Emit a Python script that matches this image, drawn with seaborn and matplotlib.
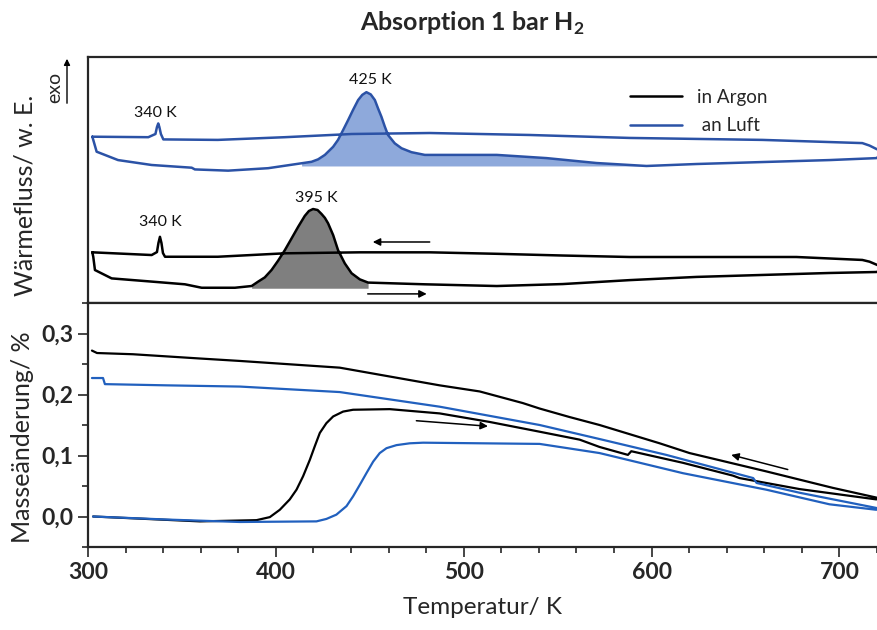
import numpy as np
import pandas as pd
import matplotlib
matplotlib.use("Agg")
import matplotlib.pyplot as plt
import seaborn as sns
from matplotlib.ticker import MultipleLocator, FuncFormatter
from matplotlib.lines import Line2D

# ---------------- DATA ----------------
# DSC (heat flow, arbitrary units) - in Argon (black)
dsc_ar_heat_T = [302.3, 302.8, 303.7, 312.6, 333.9, 351.6, 360.5, 378.2, 387.1, 390.6, 394.1, 397.7,
                 401.2, 404.8, 408.4, 411.9, 415.4, 417.6, 419.8, 422.2, 424.3, 426.1, 427.8, 430.5,
                 433.1, 436.7, 440.3, 444.7, 449.1, 479.3, 517.6, 552.7, 588.3, 623.9, 659.0, 694.7,
                 719.7, 722.0, 723.0]
dsc_ar_heat_y = [20.6, 18.8, 13.4, 10.0, 8.7, 7.6, 6.2, 6.2, 6.9, 8.7, 10.4, 13.4,
                 17.2, 21.5, 26.3, 31.0, 35.4, 37.4, 38.2, 37.8, 36.2, 34.6, 32.4, 27.6,
                 21.5, 16.1, 12.1, 9.6, 8.3, 7.6, 6.9, 7.7, 9.3, 10.6, 11.4, 12.2,
                 12.6, 13.2, 14.2]
dsc_ar_cool_T = [721.5, 719.7, 716.0, 712.2, 677.1, 623.9, 588.3, 552.7, 517.6, 481.9, 444.7, 404.8,
                 369.1, 341.0, 339.9, 339.1, 338.3, 337.5, 336.7, 333.9, 302.3]
dsc_ar_cool_y = [15.0, 15.6, 16.8, 17.5, 18.7, 18.7, 18.7, 19.3, 20.0, 20.6, 20.6, 20.2,
                 18.8, 18.8, 20.3, 24.4, 26.9, 24.4, 20.7, 19.5, 20.6]

# DSC - an Luft (blue)
dsc_lu_heat_T = [302.3, 302.8, 304.6, 316.0, 333.9, 355.2, 356.9, 374.6, 395.9, 413.7, 419.0, 422.5,
                 426.1, 430.5, 433.1, 435.8, 438.5, 441.1, 443.8, 446.0, 448.2, 450.5, 452.7, 454.4,
                 456.2, 458.0, 459.7, 463.3, 466.9, 472.2, 479.3, 517.6, 544.1, 570.7, 597.3, 623.9,
                 659.0, 694.7, 719.7, 722.3]
dsc_lu_heat_y = [67.6, 66.3, 61.5, 58.1, 56.1, 55.0, 54.3, 53.8, 54.8, 56.8, 57.4, 58.4,
                 60.2, 63.5, 66.3, 70.3, 74.4, 78.5, 82.5, 84.6, 85.7, 84.8, 82.5, 79.1,
                 75.7, 71.7, 68.3, 64.9, 62.9, 61.3, 60.2, 60.2, 58.9, 56.9, 55.7, 56.5,
                 57.3, 58.1, 58.9, 60.4]
dsc_lu_cool_T = [722.3, 719.7, 716.0, 712.2, 659.0, 588.3, 535.1, 481.9, 440.4, 404.8, 369.1, 340.1,
                 338.8, 338.0, 337.4, 336.7, 335.9, 332.1, 302.3]
dsc_lu_cool_y = [61.8, 62.6, 64.0, 65.0, 66.3, 67.1, 68.3, 69.1, 68.7, 67.4, 66.3, 66.5,
                 68.7, 71.5, 73.0, 71.5, 68.7, 67.4, 67.6]

# peak-area baselines (heat flow units) and their temperature ranges
fill_ar_base, fill_ar_range = 6.0, (387.0, 450.0)
fill_lu_base, fill_lu_range = 55.7, (413.0, 598.0)

# TG (mass change, %) - in Argon (black)
tg_ar_heat_T = [302.7, 359.6, 389.7, 396.8, 402.1, 407.4, 411.0, 414.5, 418.1, 420.7, 423.4, 426.9,
                430.5, 435.8, 441.1, 460.6, 487.2, 513.8, 540.4, 561.7, 572.3, 587.4, 589.2, 616.7,
                643.3, 646.8, 678.7, 719.7]
tg_ar_heat_y = [0.000, -0.008, -0.006, -0.001, 0.011, 0.028, 0.044, 0.066, 0.093, 0.115, 0.137, 0.153,
                0.164, 0.172, 0.175, 0.176, 0.169, 0.155, 0.139, 0.126, 0.114, 0.101, 0.107, 0.088,
                0.067, 0.063, 0.045, 0.028]
tg_ar_cool_T = [719.7, 696.4, 661.0, 620.2, 604.3, 572.3, 556.4, 540.4, 531.4, 508.5, 487.2, 434.0,
                380.9, 359.6, 323.9, 304.8, 302.1]
tg_ar_cool_y = [0.031, 0.047, 0.074, 0.104, 0.120, 0.150, 0.163, 0.177, 0.186, 0.205, 0.215, 0.244,
                0.255, 0.259, 0.266, 0.268, 0.272]

# TG - an Luft (blue)
tg_lu_heat_T = [302.7, 342.0, 380.9, 421.6, 426.9, 432.2, 437.6, 441.1, 444.7, 448.2, 451.8, 455.3,
                458.9, 464.2, 471.3, 478.4, 540.4, 561.7, 572.3, 616.7, 661.0, 694.7, 719.7]
tg_lu_heat_y = [0.000, -0.005, -0.009, -0.008, -0.004, 0.003, 0.017, 0.033, 0.052, 0.071, 0.090, 0.104,
                0.112, 0.117, 0.120, 0.121, 0.119, 0.109, 0.104, 0.071, 0.044, 0.020, 0.011]
tg_lu_cool_T = [719.7, 678.7, 655.9, 654.1, 607.8, 572.3, 540.4, 487.2, 434.0, 380.9, 342.0, 309.0,
                308.0, 302.1]
tg_lu_cool_y = [0.014, 0.039, 0.055, 0.063, 0.101, 0.127, 0.150, 0.180, 0.204, 0.213, 0.215, 0.217,
                0.227, 0.227]

series_labels = ["in Argon", " an Luft"]
peak_labels = ["340 K", "395 K", "340 K", "425 K"]
peak_pos_T = [338.3, 421.3, 335.6, 450.5]
peak_pos_y = [32.9, 42.7, 77.2, 90.7]

# ---------------- STYLE ----------------
sns.set_theme(style="ticks")
plt.rcParams['font.family'] = ['Lato', 'DejaVu Sans']
plt.rcParams['mathtext.fontset'] = 'custom'
plt.rcParams['mathtext.rm'] = 'Lato'
plt.rcParams['mathtext.bf'] = 'Lato:bold'

C_BLACK = "#000000"
C_BLUE_DSC = "#2B52A6"
C_BLUE_TG = "#2160BE"
C_FILL_BLUE = "#8EA9DB"
C_FILL_GRAY = "#7F7F7F"

W, H = 877, 630
fig = plt.figure(figsize=(W / 100, H / 100), dpi=100)
left = 88 / W
ax1 = fig.add_axes([left, 1 - 303 / H, 1 - left, 246 / H])
ax2 = fig.add_axes([left, 1 - 547 / H, 1 - left, 244 / H])

def loop(hT, hy, cT, cy):
    return pd.DataFrame({"T": list(hT) + list(cT), "y": list(hy) + list(cy)})

# ---- top panel: DSC ----
ar = loop(dsc_ar_heat_T, dsc_ar_heat_y, dsc_ar_cool_T, dsc_ar_cool_y)
lu = loop(dsc_lu_heat_T, dsc_lu_heat_y, dsc_lu_cool_T, dsc_lu_cool_y)

for hT, hy, base, rng, col in [(dsc_lu_heat_T, dsc_lu_heat_y, fill_lu_base, fill_lu_range, C_FILL_BLUE),
                               (dsc_ar_heat_T, dsc_ar_heat_y, fill_ar_base, fill_ar_range, C_FILL_GRAY)]:
    Th = np.array(hT); yh = np.array(hy)
    sel = (Th >= rng[0]) & (Th <= rng[1])
    ax1.fill_between(Th[sel], base, np.maximum(yh[sel], base), color=col, lw=0, zorder=1)

sns.lineplot(data=ar, x="T", y="y", sort=False, estimator=None, color=C_BLACK, lw=1.8, ax=ax1, zorder=3)
sns.lineplot(data=lu, x="T", y="y", sort=False, estimator=None, color=C_BLUE_DSC, lw=1.8, ax=ax1, zorder=3)

for lab, tx, ty in zip(peak_labels, peak_pos_T, peak_pos_y):
    ax1.text(tx, ty, lab, ha="center", va="center", fontsize=11.5, color="#111111")

arrow_kw = dict(arrowstyle="-|>", color="black", lw=1.1, mutation_scale=11, shrinkA=0, shrinkB=0)
ax1.annotate("", xy=(451.6, 24.8), xytext=(481.9, 24.8), arrowprops=arrow_kw)
ax1.annotate("", xy=(480.3, 3.7), xytext=(448.9, 3.7), arrowprops=arrow_kw)

handles = [Line2D([0], [0], color=C_BLACK, lw=1.8), Line2D([0], [0], color=C_BLUE_DSC, lw=1.8)]
ax1.legend(handles, series_labels, loc="upper left", bbox_to_anchor=(0.675, 0.91), frameon=False,
           fontsize=13.5, handlelength=2.8, handletextpad=0.8, labelspacing=0.62, borderpad=0)

ax1.set_xlim(300, 720)
ax1.set_ylim(0, 100)
ax1.xaxis.set_major_locator(MultipleLocator(100))
ax1.xaxis.set_minor_locator(MultipleLocator(20))
ax1.set_yticks([])
ax1.tick_params(axis="x", which="major", direction="out", length=7, width=1.2, labelbottom=False)
ax1.tick_params(axis="x", which="minor", direction="out", length=4.5, width=1.2)
ax1.set_xlabel(""); ax1.set_ylabel("")
for s in ["left", "top", "bottom"]:
    ax1.spines[s].set_linewidth(1.6)
ax1.spines["right"].set_visible(False)

# ---- bottom panel: TG ----
tar = loop(tg_ar_heat_T, tg_ar_heat_y, tg_ar_cool_T, tg_ar_cool_y)
tlu = loop(tg_lu_heat_T, tg_lu_heat_y, tg_lu_cool_T, tg_lu_cool_y)
sns.lineplot(data=tar, x="T", y="y", sort=False, estimator=None, color=C_BLACK, lw=1.6, ax=ax2)
sns.lineplot(data=tlu, x="T", y="y", sort=False, estimator=None, color=C_BLUE_TG, lw=1.6, ax=ax2)

ax2.annotate("", xy=(512.9, 0.148), xytext=(474.8, 0.157), arrowprops=arrow_kw)
ax2.annotate("", xy=(642.4, 0.101), xytext=(672.5, 0.077), arrowprops=arrow_kw)

ax2.set_xlim(300, 720)
ax2.set_ylim(-0.05, 0.35)
ax2.xaxis.set_major_locator(MultipleLocator(100))
ax2.xaxis.set_minor_locator(MultipleLocator(20))
ax2.yaxis.set_major_locator(MultipleLocator(0.1))
ax2.yaxis.set_minor_locator(MultipleLocator(0.05))
ax2.yaxis.set_major_formatter(FuncFormatter(lambda v, p: f"{v:.1f}".replace(".", ",").replace("-0,0", "0,0")))
ax2.set_xlabel(""); ax2.set_ylabel("")
ax2.tick_params(axis="both", which="major", direction="out", length=7, width=1.2, labelsize=16.5)
ax2.tick_params(axis="both", which="minor", direction="out", length=4.5, width=1.2)
for lbl in ax2.get_xticklabels() + ax2.get_yticklabels():
    lbl.set_fontweight("bold")
for s in ["left", "top", "bottom"]:
    ax2.spines[s].set_linewidth(1.6)
ax2.spines["right"].set_visible(False)

# ---- figure texts ----
fig.text(472 / W, 1 - 23 / H, r"Absorption 1 bar H$_\mathbf{2}$", ha="center", va="center",
         fontsize=18, fontweight="bold")
fig.text(25 / W, 1 - 195 / H, "Wärmefluss/ w. E.", rotation=90, ha="center", va="center", fontsize=18)
fig.text(23 / W, 1 - 437 / H, "Masseänderung/ %", rotation=90, ha="center", va="center", fontsize=18)
fig.text(482 / W, 1 - 608 / H, "Temperatur/ K", ha="center", va="center", fontsize=17.5)
fig.text(55 / W, 1 - 87 / H, "exo", rotation=90, ha="center", va="center", fontsize=14)
fig.patches.append(matplotlib.patches.FancyArrowPatch((67 / W, 1 - 106 / H), (67 / W, 1 - 56 / H),
                   transform=fig.transFigure, arrowstyle="-|>", mutation_scale=9, lw=1.0, color="black"))

fig.savefig("out.png", dpi=100)
